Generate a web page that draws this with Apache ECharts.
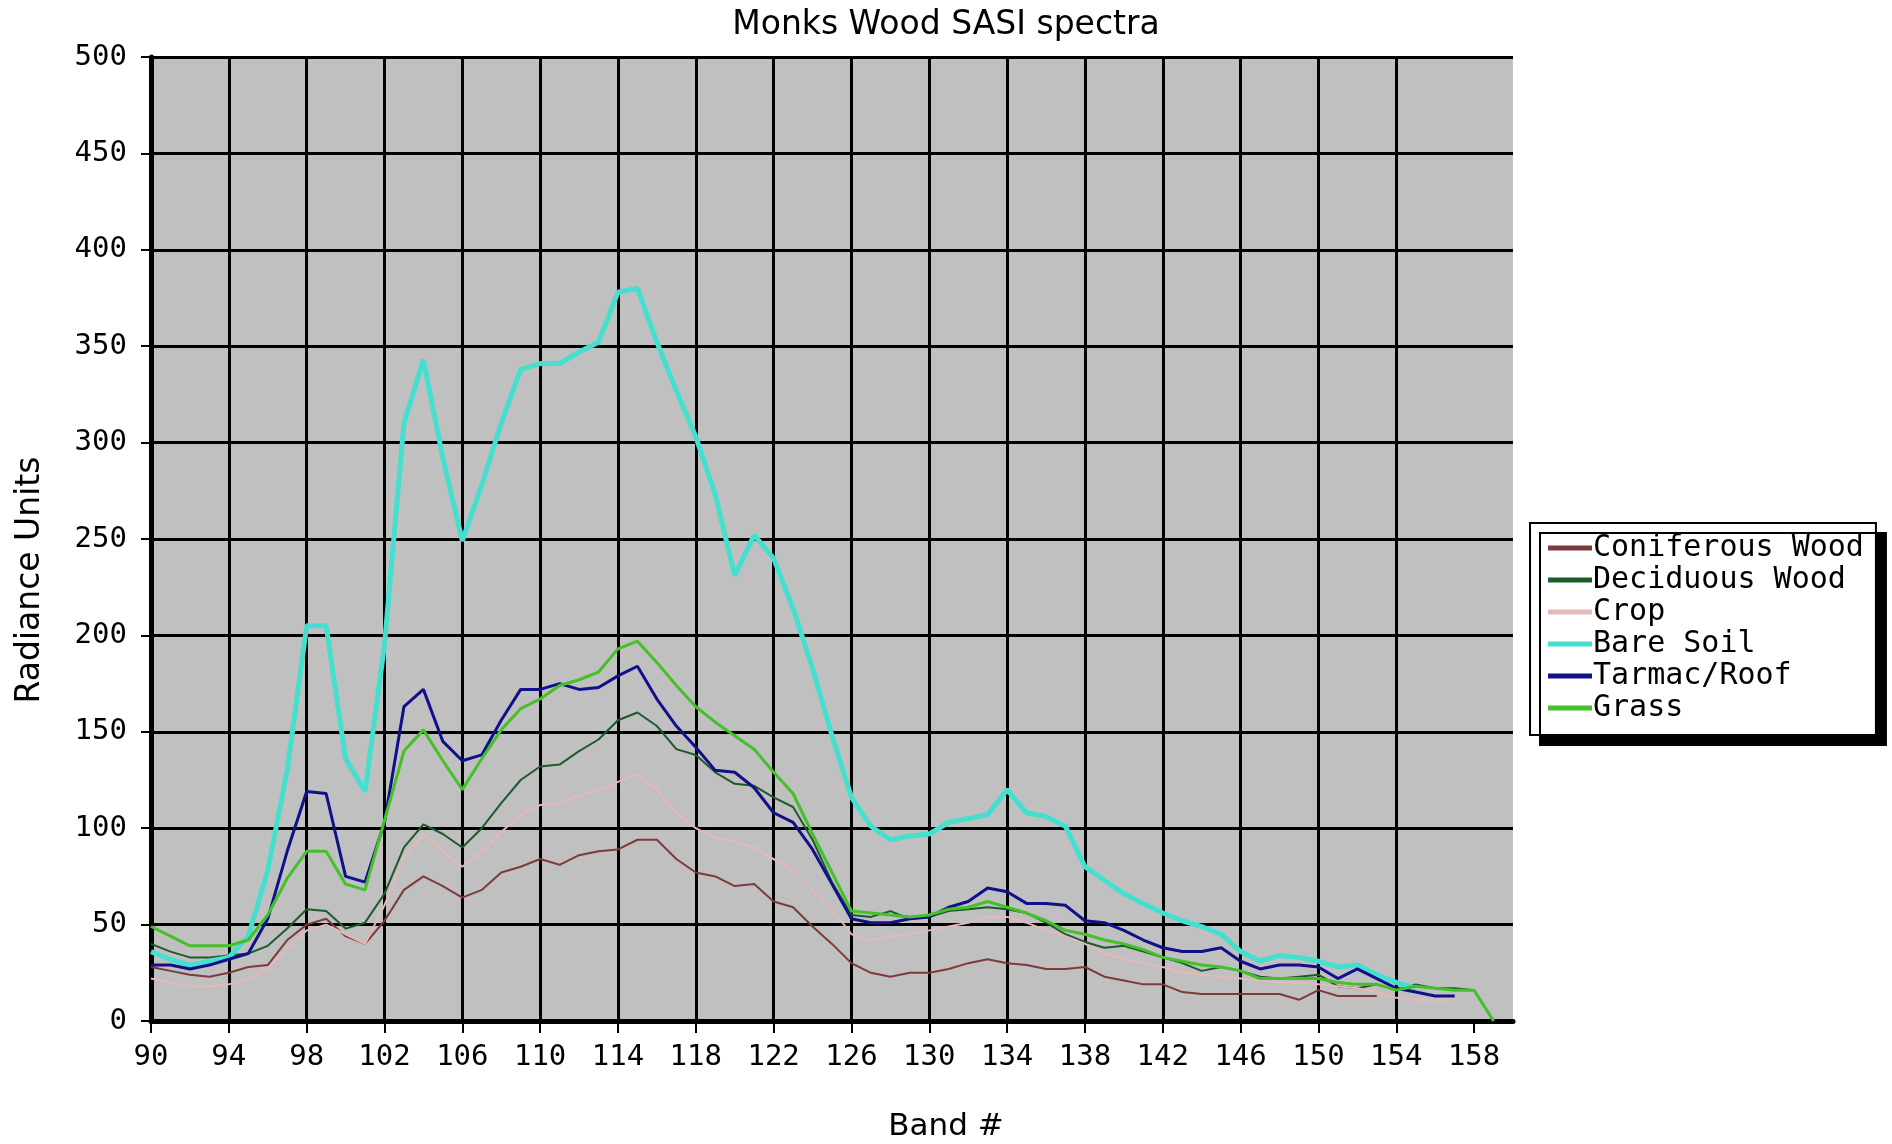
<!DOCTYPE html>
<html>
<head>
<meta charset="utf-8">
<title>Monks Wood SASI spectra</title>
<script src="https://cdn.jsdelivr.net/npm/echarts@6/dist/echarts.min.js"></script>
<style>
  html, body { margin: 0; padding: 0; background: #fff; }
  #chart { width: 1892px; height: 1144px; }
</style>
</head>
<body>
<div id="chart"></div>
<script>
// band numbers along the x axis
const bands = [90, 91, 92, 93, 94, 95, 96, 97, 98, 99,
  100, 101, 102, 103, 104, 105, 106, 107, 108, 109,
  110, 111, 112, 113, 114, 115, 116, 117, 118, 119,
  120, 121, 122, 123, 124, 125, 126, 127, 128, 129,
  130, 131, 132, 133, 134, 135, 136, 137, 138, 139,
  140, 141, 142, 143, 144, 145, 146, 147, 148, 149,
  150, 151, 152, 153, 154, 155, 156, 157, 158, 159]

// labelled ticks on the x axis
const xTicks = [90, 94, 98, 102, 106, 110, 114, 118, 122, 126, 130, 134, 138, 142, 146, 150, 154, 158]

const coniferousWood = [28, 26, 24, 23, 25, 28, 29, 42, 50, 53,
  44, 40, 52, 68, 75, 70, 64, 68, 77, 80,
  84, 81, 86, 88, 89, 94, 94, 84, 77, 75,
  70, 71, 62, 59, 49, 40, 30, 25, 23, 25,
  25, 27, 30, 32, 30, 29, 27, 27, 28, 23,
  21, 19, 19, 15, 14, 14, 14, 14, 14, 11,
  16, 13, 13, 13, null, null, null, null, null, null]

const deciduousWood = [40, 36, 33, 33, 34, 35, 39, 48, 58, 57,
  48, 51, 66, 90, 102, 97, 90, 100, 113, 125,
  132, 133, 140, 146, 156, 160, 153, 141, 138, 129,
  123, 122, 116, 111, 94, 72, 55, 54, 57, 53,
  54, 57, 58, 59, 58, 56, 51, 45, 41, 38,
  39, 36, 33, 30, 26, 28, 26, 23, 22, 23,
  24, 18, 17, 19, 16, 19, 17, 17, 16, 0]

const crop = [22, 20, 18, 18, 19, 22, 27, 38, 47, 50,
  45, 40, 60, 85, 97, 88, 80, 88, 98, 107,
  112, 113, 117, 120, 124, 128, 120, 108, 100, 95,
  93, 90, 84, 78, 68, 58, 45, 42, 44, 45,
  47, 49, 51, 54, 54, 51, 47, 44, 40, 35,
  32, 30, 28, 25, 24, 23, 22, 21, 20, 20,
  19, 18, 17, 15, 12, 11, 11, 11, null, null]

const bareSoil = [36, 32, 29, 31, 33, 44, 78, 130, 205, 205,
  136, 119, 195, 310, 343, 292, 249, 278, 310, 338,
  341, 341, 347, 352, 378, 380, 352, 327, 303, 273,
  231, 252, 240, 214, 183, 148, 116, 101, 94, 96,
  97, 103, 105, 107, 120, 108, 106, 101, 80, 73,
  66, 61, 56, 52, 49, 45, 36, 31, 34, 33,
  31, 28, 29, 24, 20, 17, null, null, null, null]

const tarmacRoof = [29, 29, 27, 29, 32, 35, 53, 88, 119, 118,
  75, 72, 103, 163, 172, 145, 135, 138, 156, 172,
  172, 175, 172, 173, 179, 184, 167, 153, 142, 130,
  129, 121, 108, 103, 89, 71, 53, 51, 51, 53,
  54, 59, 62, 69, 67, 61, 61, 60, 52, 51,
  47, 42, 38, 36, 36, 38, 31, 27, 29, 29,
  28, 22, 27, 22, 17, 15, 13, 13, null, null]

const grass = [49, 44, 39, 39, 39, 42, 55, 74, 88, 88,
  71, 68, 104, 140, 151, 135, 120, 136, 151, 162,
  167, 174, 177, 181, 193, 197, 186, 174, 163, 155,
  148, 141, 129, 118, 97, 77, 57, 56, 55, 54,
  55, 58, 59, 62, 59, 56, 52, 47, 45, 42,
  40, 37, 33, 31, 29, 28, 26, 22, 22, 22,
  22, 20, 19, 19, 16, 18, 17, 16, 16, 0]

const seriesNames = ['Coniferous Wood', 'Deciduous Wood', 'Crop', 'Bare Soil', 'Tarmac/Roof', 'Grass']
const seriesValues = [coniferousWood, deciduousWood, crop, bareSoil, tarmacRoof, grass]
const seriesColors = ['#7e3a3a', '#1d5a2c', '#e6b8b8', '#45dfd0', '#10108a', '#44c028']
const seriesWidths = [2, 2, 2, 5, 3, 3]

const monoFont = '"DejaVu Sans Mono", "Liberation Mono", monospace'
const sansFont = '"DejaVu Sans", "Liberation Sans", sans-serif'

const chart = echarts.init(document.getElementById('chart'))

chart.setOption({
  animation: false,
  backgroundColor: '#fff',
  title: [{
    text: 'Monks Wood SASI spectra',
    left: 'center',
    top: 4,
    textStyle: { fontFamily: sansFont, fontSize: 33, fontWeight: 'normal', color: '#000' }
  }, {
    text: 'Band #',
    left: 'center',
    top: 1106,
    textStyle: { fontFamily: sansFont, fontSize: 31, fontWeight: 'normal', color: '#000' }
  }],
  graphic: [{
    type: 'text',
    x: 30,
    y: 580,
    rotation: Math.PI / 2,
    style: {
      text: 'Radiance Units',
      font: '33px ' + sansFont,
      fill: '#000',
      textAlign: 'center',
      textVerticalAlign: 'middle'
    }
  }],
  legend: {
    orient: 'vertical',
    left: 1530,
    top: 523,
    data: seriesNames,
    icon: 'rect',
    itemWidth: 44,
    itemHeight: 5,
    itemGap: 2,
    padding: [10, 12, 12, 18],
    backgroundColor: '#fff',
    borderColor: '#000',
    borderWidth: 2,
    shadowColor: '#000',
    shadowBlur: 0,
    shadowOffsetX: 10,
    shadowOffsetY: 10,
    textStyle: { fontFamily: monoFont, fontSize: 30, lineHeight: 30, color: '#000', padding: [0, 0, 0, -4] }
  },
  grid: {
    left: 151,
    right: 379,
    top: 57,
    bottom: 123,
    show: true,
    backgroundColor: '#c0c0c0',
    borderWidth: 0
  },
  xAxis: {
    type: 'value',
    min: 90,
    max: 160,
    interval: 4,
    axisLine: { show: true, onZero: false, lineStyle: { color: '#000', width: 5 } },
    axisTick: { show: true, length: 12, customValues: xTicks, lineStyle: { color: '#000', width: 2 } },
    axisLabel: {
      fontFamily: monoFont,
      fontSize: 29,
      color: '#000',
      margin: 22,
      customValues: xTicks
    },
    splitLine: { show: true, showMaxLine: false, lineStyle: { color: '#000', width: 3 } }
  },
  yAxis: {
    type: 'value',
    min: 0,
    max: 500,
    interval: 50,
    axisLine: { show: true, lineStyle: { color: '#000', width: 5 } },
    axisTick: { show: true, length: 10, lineStyle: { color: '#000', width: 2 } },
    axisLabel: { fontFamily: monoFont, fontSize: 29, color: '#000', margin: 24 },
    splitLine: { show: true, lineStyle: { color: '#000', width: 3 } }
  },
  series: seriesNames.map(function (name, k) {
    return {
      name: name,
      type: 'line',
      showSymbol: false,
      symbol: 'none',
      connectNulls: false,
      color: seriesColors[k],
      lineStyle: { color: seriesColors[k], width: seriesWidths[k] },
      data: bands.map(function (b, i) { return [b, seriesValues[k][i]] })
    }
  })
})
</script>
</body>
</html>
